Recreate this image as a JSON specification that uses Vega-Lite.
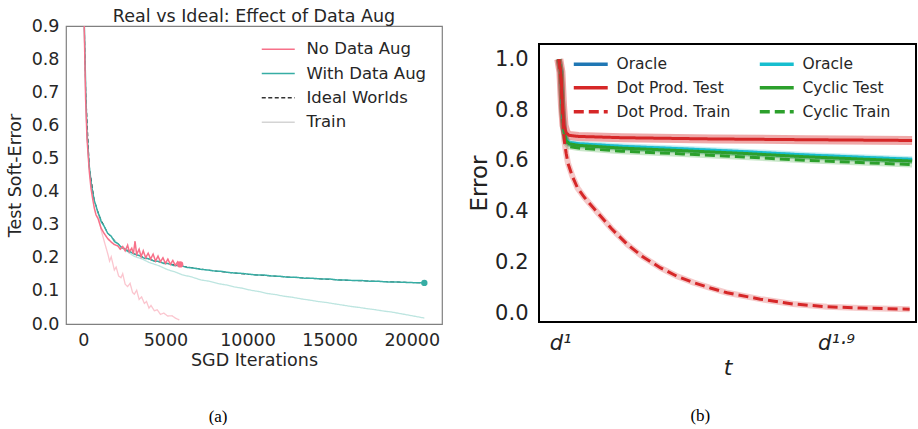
{
  "$schema": "https://vega.github.io/schema/vega-lite/v6.json",
  "background": "white",
  "padding": {"left": 5, "top": 6, "right": 0, "bottom": 0},
  "spacing": 24,
  "resolve": {"scale": {"color": "independent", "strokeDash": "independent"}, "legend": {"color": "independent", "strokeDash": "independent"}},
  "config": {
    "font": "DejaVu Sans",
    "axis": {"grid": false, "ticks": false, "domain": false, "labelFont": "DejaVu Sans", "titleFont": "DejaVu Sans", "titleFontWeight": "normal"},
    "legend": {"labelFont": "DejaVu Sans", "padding": 0}
  },
  "datasets": {
    "a": [
      {"s": "With Data Aug", "x": 0, "y": 1.05}, {"s": "With Data Aug", "x": 63, "y": 0.9}, {"s": "With Data Aug", "x": 150, "y": 0.7}, {"s": "With Data Aug", "x": 225, "y": 0.58}, {"s": "With Data Aug", "x": 300, "y": 0.52}, {"s": "With Data Aug", "x": 366, "y": 0.475}, {"s": "With Data Aug", "x": 469, "y": 0.43}, {"s": "With Data Aug", "x": 570, "y": 0.398}, {"s": "With Data Aug", "x": 671, "y": 0.372}, {"s": "With Data Aug", "x": 773, "y": 0.357}, {"s": "With Data Aug", "x": 877, "y": 0.338}, {"s": "With Data Aug", "x": 977, "y": 0.327}, {"s": "With Data Aug", "x": 1100, "y": 0.308}, {"s": "With Data Aug", "x": 1250, "y": 0.297}, {"s": "With Data Aug", "x": 1485, "y": 0.274}, {"s": "With Data Aug", "x": 1700, "y": 0.265}, {"s": "With Data Aug", "x": 1900, "y": 0.249}, {"s": "With Data Aug", "x": 2100, "y": 0.243}, {"s": "With Data Aug", "x": 2300, "y": 0.232}, {"s": "With Data Aug", "x": 2500, "y": 0.228}, {"s": "With Data Aug", "x": 2700, "y": 0.22}, {"s": "With Data Aug", "x": 2900, "y": 0.217}, {"s": "With Data Aug", "x": 3107, "y": 0.211}, {"s": "With Data Aug", "x": 3400, "y": 0.207}, {"s": "With Data Aug", "x": 3700, "y": 0.199}, {"s": "With Data Aug", "x": 4000, "y": 0.197}, {"s": "With Data Aug", "x": 4300, "y": 0.19}, {"s": "With Data Aug", "x": 4600, "y": 0.189}, {"s": "With Data Aug", "x": 4900, "y": 0.183}, {"s": "With Data Aug", "x": 5138, "y": 0.183}, {"s": "With Data Aug", "x": 5500, "y": 0.177}, {"s": "With Data Aug", "x": 5950, "y": 0.176}, {"s": "With Data Aug", "x": 6300, "y": 0.171}, {"s": "With Data Aug", "x": 6700, "y": 0.169}, {"s": "With Data Aug", "x": 7168, "y": 0.165}, {"s": "With Data Aug", "x": 7600, "y": 0.163}, {"s": "With Data Aug", "x": 8000, "y": 0.16}, {"s": "With Data Aug", "x": 8400, "y": 0.159}, {"s": "With Data Aug", "x": 8800, "y": 0.156}, {"s": "With Data Aug", "x": 9198, "y": 0.154}, {"s": "With Data Aug", "x": 9600, "y": 0.153}, {"s": "With Data Aug", "x": 10000, "y": 0.151}, {"s": "With Data Aug", "x": 10500, "y": 0.148}, {"s": "With Data Aug", "x": 11000, "y": 0.148}, {"s": "With Data Aug", "x": 11500, "y": 0.145}, {"s": "With Data Aug", "x": 12000, "y": 0.144}, {"s": "With Data Aug", "x": 12500, "y": 0.141}, {"s": "With Data Aug", "x": 13000, "y": 0.141}, {"s": "With Data Aug", "x": 13500, "y": 0.138}, {"s": "With Data Aug", "x": 14000, "y": 0.138}, {"s": "With Data Aug", "x": 14500, "y": 0.136}, {"s": "With Data Aug", "x": 15000, "y": 0.136}, {"s": "With Data Aug", "x": 15500, "y": 0.133}, {"s": "With Data Aug", "x": 16000, "y": 0.133}, {"s": "With Data Aug", "x": 16500, "y": 0.131}, {"s": "With Data Aug", "x": 17000, "y": 0.131}, {"s": "With Data Aug", "x": 17500, "y": 0.129}, {"s": "With Data Aug", "x": 18000, "y": 0.129}, {"s": "With Data Aug", "x": 18500, "y": 0.127}, {"s": "With Data Aug", "x": 19000, "y": 0.127}, {"s": "With Data Aug", "x": 19500, "y": 0.126}, {"s": "With Data Aug", "x": 20000, "y": 0.125}, {"s": "With Data Aug", "x": 20770, "y": 0.124},

      {"s": "Ideal Worlds", "x": 0, "y": 1.05}, {"s": "Ideal Worlds", "x": 150, "y": 0.7}, {"s": "Ideal Worlds", "x": 366, "y": 0.475}, {"s": "Ideal Worlds", "x": 671, "y": 0.373}, {"s": "Ideal Worlds", "x": 977, "y": 0.326}, {"s": "Ideal Worlds", "x": 1485, "y": 0.274}, {"s": "Ideal Worlds", "x": 2300, "y": 0.233}, {"s": "Ideal Worlds", "x": 3107, "y": 0.212}, {"s": "Ideal Worlds", "x": 4300, "y": 0.191}, {"s": "Ideal Worlds", "x": 5950, "y": 0.175}, {"s": "Ideal Worlds", "x": 8000, "y": 0.16}, {"s": "Ideal Worlds", "x": 10000, "y": 0.15}, {"s": "Ideal Worlds", "x": 13000, "y": 0.14}, {"s": "Ideal Worlds", "x": 16000, "y": 0.132}, {"s": "Ideal Worlds", "x": 20770, "y": 0.124},

      {"s": "No Data Aug", "x": 0, "y": 1.05}, {"s": "No Data Aug", "x": 63, "y": 0.88}, {"s": "No Data Aug", "x": 140, "y": 0.68}, {"s": "No Data Aug", "x": 225, "y": 0.56}, {"s": "No Data Aug", "x": 366, "y": 0.46}, {"s": "No Data Aug", "x": 469, "y": 0.41}, {"s": "No Data Aug", "x": 570, "y": 0.378}, {"s": "No Data Aug", "x": 671, "y": 0.35}, {"s": "No Data Aug", "x": 773, "y": 0.33}, {"s": "No Data Aug", "x": 900, "y": 0.318}, {"s": "No Data Aug", "x": 1078, "y": 0.29}, {"s": "No Data Aug", "x": 1250, "y": 0.275}, {"s": "No Data Aug", "x": 1485, "y": 0.258}, {"s": "No Data Aug", "x": 1687, "y": 0.248}, {"s": "No Data Aug", "x": 1890, "y": 0.24}, {"s": "No Data Aug", "x": 2100, "y": 0.236}, {"s": "No Data Aug", "x": 2250, "y": 0.226}, {"s": "No Data Aug", "x": 2400, "y": 0.234}, {"s": "No Data Aug", "x": 2550, "y": 0.221}, {"s": "No Data Aug", "x": 2700, "y": 0.238}, {"s": "No Data Aug", "x": 2800, "y": 0.218}, {"s": "No Data Aug", "x": 2950, "y": 0.229}, {"s": "No Data Aug", "x": 3050, "y": 0.212}, {"s": "No Data Aug", "x": 3150, "y": 0.25}, {"s": "No Data Aug", "x": 3250, "y": 0.21}, {"s": "No Data Aug", "x": 3400, "y": 0.226}, {"s": "No Data Aug", "x": 3520, "y": 0.203}, {"s": "No Data Aug", "x": 3650, "y": 0.221}, {"s": "No Data Aug", "x": 3800, "y": 0.2}, {"s": "No Data Aug", "x": 3950, "y": 0.214}, {"s": "No Data Aug", "x": 4100, "y": 0.196}, {"s": "No Data Aug", "x": 4250, "y": 0.211}, {"s": "No Data Aug", "x": 4400, "y": 0.19}, {"s": "No Data Aug", "x": 4550, "y": 0.205}, {"s": "No Data Aug", "x": 4700, "y": 0.188}, {"s": "No Data Aug", "x": 4850, "y": 0.2}, {"s": "No Data Aug", "x": 5000, "y": 0.183}, {"s": "No Data Aug", "x": 5150, "y": 0.196}, {"s": "No Data Aug", "x": 5300, "y": 0.18}, {"s": "No Data Aug", "x": 5450, "y": 0.192}, {"s": "No Data Aug", "x": 5600, "y": 0.177}, {"s": "No Data Aug", "x": 5750, "y": 0.188}, {"s": "No Data Aug", "x": 5900, "y": 0.18},

      {"s": "Train NoAug", "x": 900, "y": 0.34}, {"s": "Train NoAug", "x": 1078, "y": 0.285}, {"s": "Train NoAug", "x": 1300, "y": 0.245}, {"s": "Train NoAug", "x": 1485, "y": 0.213}, {"s": "Train NoAug", "x": 1600, "y": 0.19}, {"s": "Train NoAug", "x": 1700, "y": 0.203}, {"s": "Train NoAug", "x": 1890, "y": 0.163}, {"s": "Train NoAug", "x": 2000, "y": 0.172}, {"s": "Train NoAug", "x": 2150, "y": 0.145}, {"s": "Train NoAug", "x": 2296, "y": 0.14}, {"s": "Train NoAug", "x": 2400, "y": 0.152}, {"s": "Train NoAug", "x": 2550, "y": 0.12}, {"s": "Train NoAug", "x": 2702, "y": 0.113}, {"s": "Train NoAug", "x": 2850, "y": 0.123}, {"s": "Train NoAug", "x": 3000, "y": 0.095}, {"s": "Train NoAug", "x": 3107, "y": 0.09}, {"s": "Train NoAug", "x": 3250, "y": 0.102}, {"s": "Train NoAug", "x": 3400, "y": 0.074}, {"s": "Train NoAug", "x": 3550, "y": 0.082}, {"s": "Train NoAug", "x": 3717, "y": 0.062}, {"s": "Train NoAug", "x": 3850, "y": 0.068}, {"s": "Train NoAug", "x": 4000, "y": 0.048}, {"s": "Train NoAug", "x": 4123, "y": 0.056}, {"s": "Train NoAug", "x": 4326, "y": 0.04}, {"s": "Train NoAug", "x": 4500, "y": 0.043}, {"s": "Train NoAug", "x": 4700, "y": 0.029}, {"s": "Train NoAug", "x": 4900, "y": 0.033}, {"s": "Train NoAug", "x": 5138, "y": 0.024}, {"s": "Train NoAug", "x": 5400, "y": 0.025}, {"s": "Train NoAug", "x": 5600, "y": 0.018}, {"s": "Train NoAug", "x": 5849, "y": 0.012},

      {"s": "Train Aug", "x": 2296, "y": 0.232}, {"s": "Train Aug", "x": 3107, "y": 0.204}, {"s": "Train Aug", "x": 3600, "y": 0.196}, {"s": "Train Aug", "x": 4000, "y": 0.186}, {"s": "Train Aug", "x": 4600, "y": 0.176}, {"s": "Train Aug", "x": 5138, "y": 0.164}, {"s": "Train Aug", "x": 5600, "y": 0.157}, {"s": "Train Aug", "x": 6000, "y": 0.149}, {"s": "Train Aug", "x": 6600, "y": 0.142}, {"s": "Train Aug", "x": 7168, "y": 0.133}, {"s": "Train Aug", "x": 7700, "y": 0.129}, {"s": "Train Aug", "x": 8200, "y": 0.122}, {"s": "Train Aug", "x": 8700, "y": 0.118}, {"s": "Train Aug", "x": 9198, "y": 0.112}, {"s": "Train Aug", "x": 9700, "y": 0.108}, {"s": "Train Aug", "x": 10200, "y": 0.102}, {"s": "Train Aug", "x": 10700, "y": 0.098}, {"s": "Train Aug", "x": 11228, "y": 0.092}, {"s": "Train Aug", "x": 11700, "y": 0.089}, {"s": "Train Aug", "x": 12200, "y": 0.084}, {"s": "Train Aug", "x": 12700, "y": 0.081}, {"s": "Train Aug", "x": 13258, "y": 0.076}, {"s": "Train Aug", "x": 13800, "y": 0.072}, {"s": "Train Aug", "x": 14300, "y": 0.068}, {"s": "Train Aug", "x": 14800, "y": 0.065}, {"s": "Train Aug", "x": 15288, "y": 0.061}, {"s": "Train Aug", "x": 15800, "y": 0.057}, {"s": "Train Aug", "x": 16300, "y": 0.053}, {"s": "Train Aug", "x": 16800, "y": 0.05}, {"s": "Train Aug", "x": 17318, "y": 0.046}, {"s": "Train Aug", "x": 17800, "y": 0.043}, {"s": "Train Aug", "x": 18300, "y": 0.039}, {"s": "Train Aug", "x": 18800, "y": 0.036}, {"s": "Train Aug", "x": 19348, "y": 0.031}, {"s": "Train Aug", "x": 19900, "y": 0.026}, {"s": "Train Aug", "x": 20770, "y": 0.018}
    ],
    "aends": [
      {"s": "No Data Aug", "x": 5900, "y": 0.18},
      {"s": "With Data Aug", "x": 20770, "y": 0.124}
    ],
    "b": [
      {"s": "Oracle", "e": 0.996, "v": 1.0}, {"s": "Oracle", "e": 1.003, "v": 0.95}, {"s": "Oracle", "e": 1.008, "v": 0.8}, {"s": "Oracle", "e": 1.013, "v": 0.72}, {"s": "Oracle", "e": 1.02, "v": 0.68}, {"s": "Oracle", "e": 1.03, "v": 0.667}, {"s": "Oracle", "e": 1.06, "v": 0.662}, {"s": "Oracle", "e": 1.2, "v": 0.652}, {"s": "Oracle", "e": 1.4, "v": 0.642}, {"s": "Oracle", "e": 1.6, "v": 0.631}, {"s": "Oracle", "e": 1.8, "v": 0.618}, {"s": "Oracle", "e": 2.0, "v": 0.608}, {"s": "Oracle", "e": 2.148, "v": 0.601},
      {"s": "Oracle ", "e": 0.996, "v": 1.0}, {"s": "Oracle ", "e": 1.003, "v": 0.95}, {"s": "Oracle ", "e": 1.008, "v": 0.8}, {"s": "Oracle ", "e": 1.013, "v": 0.722}, {"s": "Oracle ", "e": 1.02, "v": 0.684}, {"s": "Oracle ", "e": 1.03, "v": 0.672}, {"s": "Oracle ", "e": 1.06, "v": 0.667}, {"s": "Oracle ", "e": 1.2, "v": 0.657}, {"s": "Oracle ", "e": 1.4, "v": 0.647}, {"s": "Oracle ", "e": 1.6, "v": 0.636}, {"s": "Oracle ", "e": 1.8, "v": 0.623}, {"s": "Oracle ", "e": 2.0, "v": 0.613}, {"s": "Oracle ", "e": 2.148, "v": 0.606},
      {"s": "Cyclic Test", "e": 0.996, "v": 1.0}, {"s": "Cyclic Test", "e": 1.003, "v": 0.95}, {"s": "Cyclic Test", "e": 1.008, "v": 0.8}, {"s": "Cyclic Test", "e": 1.013, "v": 0.72}, {"s": "Cyclic Test", "e": 1.02, "v": 0.68}, {"s": "Cyclic Test", "e": 1.03, "v": 0.667}, {"s": "Cyclic Test", "e": 1.06, "v": 0.661}, {"s": "Cyclic Test", "e": 1.2, "v": 0.65}, {"s": "Cyclic Test", "e": 1.4, "v": 0.64}, {"s": "Cyclic Test", "e": 1.6, "v": 0.629}, {"s": "Cyclic Test", "e": 1.8, "v": 0.616}, {"s": "Cyclic Test", "e": 2.0, "v": 0.606}, {"s": "Cyclic Test", "e": 2.148, "v": 0.599},
      {"s": "Cyclic Train", "e": 0.996, "v": 1.0}, {"s": "Cyclic Train", "e": 1.003, "v": 0.95}, {"s": "Cyclic Train", "e": 1.008, "v": 0.79}, {"s": "Cyclic Train", "e": 1.013, "v": 0.71}, {"s": "Cyclic Train", "e": 1.02, "v": 0.67}, {"s": "Cyclic Train", "e": 1.03, "v": 0.656}, {"s": "Cyclic Train", "e": 1.06, "v": 0.65}, {"s": "Cyclic Train", "e": 1.2, "v": 0.638}, {"s": "Cyclic Train", "e": 1.4, "v": 0.627}, {"s": "Cyclic Train", "e": 1.6, "v": 0.615}, {"s": "Cyclic Train", "e": 1.8, "v": 0.602}, {"s": "Cyclic Train", "e": 2.0, "v": 0.592}, {"s": "Cyclic Train", "e": 2.148, "v": 0.585},
      {"s": "Dot Prod. Test", "e": 0.996, "v": 1.0}, {"s": "Dot Prod. Test", "e": 1.003, "v": 0.95}, {"s": "Dot Prod. Test", "e": 1.008, "v": 0.82}, {"s": "Dot Prod. Test", "e": 1.013, "v": 0.74}, {"s": "Dot Prod. Test", "e": 1.02, "v": 0.71}, {"s": "Dot Prod. Test", "e": 1.03, "v": 0.7}, {"s": "Dot Prod. Test", "e": 1.06, "v": 0.696}, {"s": "Dot Prod. Test", "e": 1.2, "v": 0.691}, {"s": "Dot Prod. Test", "e": 1.5, "v": 0.686}, {"s": "Dot Prod. Test", "e": 1.8, "v": 0.683}, {"s": "Dot Prod. Test", "e": 2.148, "v": 0.68},
      {"s": "Dot Prod. Train", "e": 0.996, "v": 1.0}, {"s": "Dot Prod. Train", "e": 1.003, "v": 0.92}, {"s": "Dot Prod. Train", "e": 1.009, "v": 0.78}, {"s": "Dot Prod. Train", "e": 1.014, "v": 0.68}, {"s": "Dot Prod. Train", "e": 1.02, "v": 0.63}, {"s": "Dot Prod. Train", "e": 1.026, "v": 0.59}, {"s": "Dot Prod. Train", "e": 1.04, "v": 0.54}, {"s": "Dot Prod. Train", "e": 1.057, "v": 0.493}, {"s": "Dot Prod. Train", "e": 1.08, "v": 0.455}, {"s": "Dot Prod. Train", "e": 1.11, "v": 0.413}, {"s": "Dot Prod. Train", "e": 1.166, "v": 0.335}, {"s": "Dot Prod. Train", "e": 1.22, "v": 0.27}, {"s": "Dot Prod. Train", "e": 1.27, "v": 0.222}, {"s": "Dot Prod. Train", "e": 1.328, "v": 0.178}, {"s": "Dot Prod. Train", "e": 1.38, "v": 0.146}, {"s": "Dot Prod. Train", "e": 1.436, "v": 0.12}, {"s": "Dot Prod. Train", "e": 1.49, "v": 0.099}, {"s": "Dot Prod. Train", "e": 1.545, "v": 0.08}, {"s": "Dot Prod. Train", "e": 1.653, "v": 0.055}, {"s": "Dot Prod. Train", "e": 1.76, "v": 0.036}, {"s": "Dot Prod. Train", "e": 1.87, "v": 0.025}, {"s": "Dot Prod. Train", "e": 1.98, "v": 0.02}, {"s": "Dot Prod. Train", "e": 2.14, "v": 0.015}
    ]
  },
  "hconcat": [
    {
      "title": {"text": "(a)", "orient": "bottom", "anchor": "middle", "font": "Liberation Serif", "fontSize": 17, "fontWeight": "normal", "color": "#000000", "offset": 39, "dx": -6},
      "vconcat": [
        {
          "width": 376,
          "height": 298,
          "title": {"text": "Real vs Ideal: Effect of Data Aug", "fontSize": 17.5, "fontWeight": "normal", "color": "#262626", "offset": -8, "font": "DejaVu Sans"},
          "view": {"stroke": "#808080", "strokeWidth": 1.2},
          "data": {"name": "a"},
          "encoding": {
            "x": {"field": "x", "type": "quantitative", "scale": {"domain": [-1054, 21845], "nice": false, "zero": false},
              "axis": {"values": [0, 5000, 10000, 15000, 20000], "format": "d", "title": "SGD Iterations", "labelFontSize": 17.5, "titleFontSize": 17.5, "labelColor": "#262626", "titleColor": "#262626", "labelPadding": 7, "titlePadding": 3}},
            "y": {"field": "y", "type": "quantitative", "scale": {"domain": [0, 0.9], "nice": false},
              "axis": {"values": [0, 0.1, 0.2, 0.3, 0.4, 0.5, 0.6, 0.7, 0.8, 0.9], "format": ".1f", "title": "Test Soft-Error", "labelFontSize": 17.5, "titleFontSize": 17.5, "labelColor": "#262626", "titleColor": "#262626", "labelPadding": 7, "titlePadding": 7}},
            "color": {"field": "s", "type": "nominal",
              "scale": {"domain": ["No Data Aug", "With Data Aug", "Ideal Worlds", "Train", "Train NoAug", "Train Aug"], "range": ["#f77189", "#36ada4", "#333333", "#d4d4d4", "#fbc6cf", "#bde5e0"]},
              "legend": {"values": ["No Data Aug", "With Data Aug", "Ideal Worlds", "Train"], "title": null, "orient": "none", "legendX": 204, "legendY": 15, "symbolType": "M-3,0H3", "symbolSize": 121, "symbolStrokeWidth": 1.5, "symbolFillColor": "transparent", "labelFontSize": 16.5, "labelColor": "#262626", "labelOffset": 20, "rowPadding": 7.3}},
            "strokeDash": {"field": "s", "type": "nominal",
              "scale": {"domain": ["No Data Aug", "With Data Aug", "Ideal Worlds", "Train", "Train NoAug", "Train Aug"], "range": [[1, 0], [1, 0], [4, 2.5], [1, 0], [1, 0], [1, 0]]},
              "legend": {"values": ["No Data Aug", "With Data Aug", "Ideal Worlds", "Train"], "title": null, "orient": "none", "legendX": 204, "legendY": 15, "symbolType": "M-3,0H3", "symbolSize": 121, "symbolStrokeWidth": 1.5, "symbolFillColor": "transparent", "labelFontSize": 16.5, "labelColor": "#262626", "labelOffset": 20, "rowPadding": 7.3}}
          },
          "layer": [
            {"transform": [{"filter": "datum.s == 'Train NoAug' || datum.s == 'Train Aug'"}], "mark": {"type": "line", "strokeWidth": 1.3, "clip": true}},
            {"transform": [{"filter": "datum.s == 'Ideal Worlds'"}], "mark": {"type": "line", "strokeWidth": 1, "clip": true}},
            {"transform": [{"filter": "datum.s == 'No Data Aug' || datum.s == 'With Data Aug'"}], "mark": {"type": "line", "strokeWidth": 1.5, "clip": true}},
            {"data": {"name": "aends"}, "transform": [{"filter": "datum.s == 'No Data Aug'"}], "mark": {"type": "circle", "size": 40, "opacity": 1, "color": "#f77189"}, "encoding": {"color": {"value": "#f77189"}, "strokeDash": {"value": [1, 0]}}},
            {"data": {"name": "aends"}, "transform": [{"filter": "datum.s == 'With Data Aug'"}], "mark": {"type": "circle", "size": 40, "opacity": 1, "color": "#36ada4"}, "encoding": {"color": {"value": "#36ada4"}, "strokeDash": {"value": [1, 0]}}}
          ]
        }
      ]
    },
    {
      "title": {"text": "(b)", "orient": "bottom", "anchor": "middle", "font": "Liberation Serif", "fontSize": 17, "fontWeight": "normal", "color": "#000000", "offset": 29, "dx": 8},
      "spacing": 6,
      "vconcat": [
        {
          "width": 377,
          "height": 11,
          "view": {"stroke": null},
          "data": {"values": []},
          "mark": "point"
        },
        {
          "width": 377,
          "height": 278,
          "view": {"stroke": "#000000", "strokeWidth": 2},
          "data": {"name": "b"},
          "encoding": {
            "x": {"field": "e", "type": "quantitative", "scale": {"domain": [0.9315, 2.1607], "nice": false, "zero": false},
              "axis": {"values": [1, 1.9], "labelExpr": "datum.value < 1.5 ? 'd¹' : 'd¹·⁹'", "labelFontStyle": "italic", "labelFontSize": 21, "labelColor": "#222222", "title": "t", "titleFontStyle": "italic", "titleFontSize": 22, "titleColor": "#222222", "labelPadding": 10, "titlePadding": 4}},
            "y": {"field": "v", "type": "quantitative", "scale": {"domain": [-0.035, 1.06], "nice": false, "zero": false},
              "axis": {"values": [0, 0.2, 0.4, 0.6, 0.8, 1.0], "format": ".1f", "labelFontSize": 21, "labelColor": "#222222", "title": "Error", "titleFontSize": 23, "titleColor": "#222222", "labelPadding": 11, "titlePadding": 3}}
          },
          "layer": [
            {"transform": [{"filter": "datum.s != 'Dot Prod. Test'"}], "mark": {"type": "line", "strokeWidth": 6, "opacity": 0.25, "clip": true},
              "encoding": {"stroke": {"field": "s", "type": "nominal", "legend": null, "scale": {"domain": ["Oracle", "Oracle ", "Dot Prod. Test", "Cyclic Test", "Dot Prod. Train", "Cyclic Train"], "range": ["#1f77b4", "#17becf", "#d62728", "#2ca02c", "#d62728", "#2ca02c"]}}}},
            {"transform": [{"filter": "datum.s == 'Dot Prod. Test'"}], "mark": {"type": "line", "strokeWidth": 9, "opacity": 0.4, "clip": true},
              "encoding": {"stroke": {"field": "s", "type": "nominal", "legend": null}}},
            {"mark": {"type": "line", "strokeWidth": 3, "clip": true},
              "encoding": {
                "color": {"field": "s", "type": "nominal",
                  "scale": {"domain": ["Oracle", "Dot Prod. Test", "Dot Prod. Train", "Oracle ", "Cyclic Test", "Cyclic Train"], "range": ["#1f77b4", "#d62728", "#d62728", "#17becf", "#2ca02c", "#2ca02c"]},
                  "legend": {"title": null, "orient": "none", "legendX": 44, "legendY": 30, "columns": 2, "columnPadding": 21, "symbolType": "M-3,0H3", "symbolSize": 128, "symbolStrokeWidth": 3.5, "symbolFillColor": "transparent", "labelFontSize": 15.5, "labelColor": "#262626", "labelOffset": 18, "rowPadding": 7}},
                "strokeDash": {"field": "s", "type": "nominal",
                  "scale": {"domain": ["Oracle", "Dot Prod. Test", "Dot Prod. Train", "Oracle ", "Cyclic Test", "Cyclic Train"], "range": [[1, 0], [1, 0], [10, 5], [1, 0], [1, 0], [10, 5]]},
                  "legend": {"title": null, "orient": "none", "legendX": 44, "legendY": 30, "columns": 2, "columnPadding": 21, "symbolType": "M-3,0H3", "symbolSize": 128, "symbolStrokeWidth": 3.5, "symbolFillColor": "transparent", "labelFontSize": 15.5, "labelColor": "#262626", "labelOffset": 18, "rowPadding": 7}}
              }}
          ]
        }
      ]
    }
  ]
}
